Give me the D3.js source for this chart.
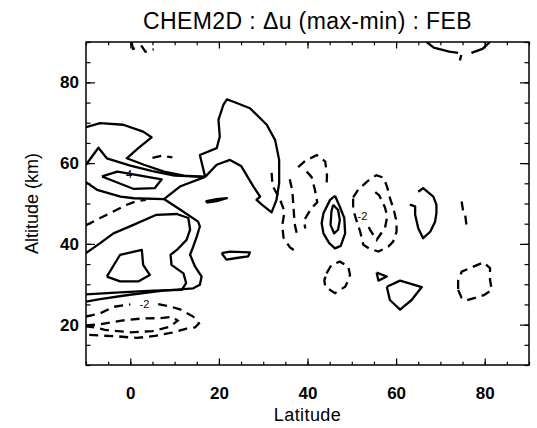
<!DOCTYPE html>
<html>
<head>
<meta charset="utf-8">
<script src="https://cdn.jsdelivr.net/npm/d3@7"></script>
<style>
  body { margin: 0; background: #fff; }
  svg text { font-family: "Liberation Sans", Arial, Helvetica, sans-serif; fill: #000; }
</style>
</head>
<body>
<svg id="chart" width="537" height="428"></svg>
<script>
// tick labels
var latTicks = [0, 20, 40, 60, 80]
var altTicks = [20, 40, 60, 80]
var latMinor = d3.range(-10, 91, 5)
var altMinor = d3.range(10, 91, 5)

// contour lines, [latitude, altitude km]
// solid = positive levels
var upperOuter = [[-10,68.9],[-6.8,69.9],[-1.6,69.5],[2.9,67.8],[4.8,66.4],[1.8,63.7],[-0.8,61.2],[3.1,59.6],[7.6,57.9],[12.1,56.9],[16.9,56.6]]
var upperZigzag = [[-10,59.6],[-7.2,63.8],[-5.3,61.2],[0,59.4],[5,58],[10,56.9],[16.9,56.6]]
var fourLoop = [[-6.4,56.7],[-2.9,57.9],[7.1,56],[5.5,53.8],[0.8,53.6],[-6.4,56.7]]
var midLine = [[-10,55.3],[-7.5,53.4],[-2.2,51.7],[0.8,51.3],[7.6,51.1],[11.2,54.2],[16.9,56.6]]
var tallLobe = [[16.9,56.6],[15.7,62],[19.5,63.7],[20.2,66.6],[19.9,70.7],[21,74.4],[21.8,75.8],[23.3,75.2],[27,73.6],[30.8,69.5],[32.7,65.7],[33.6,60.8],[33.6,55],[33,50.9],[31.9,47.8],[29.7,49.7],[28.5,50.9],[29.3,51.7],[27.8,54.2],[25,59.3],[22.5,60.8],[19.5,59.6],[16.9,56.6]]
var smallBar = [[17.2,50.2],[19.5,50.6],[21.8,51.3],[19.5,51.1],[17.2,50.6],[17.2,50.2]]
var outerLow = [[7.6,51.1],[11.4,48.4],[15.3,45.5],[15.7,44.3],[15,41.8],[14.2,39.3],[13.5,37.3],[14.6,34.4],[16.1,31.9],[15.7,29.9],[14.2,29],[7.4,28.4],[-0.1,27.4],[-6.8,26.3],[-10,25.7]]
var middleLow = [[-10,37.7],[-6.8,40.2],[-3.8,42.6],[0.7,44.7],[5.9,47.2],[10.5,47.4],[13.1,46.4],[13.5,43.5],[12.7,41],[10.5,38.5],[9.1,37.3],[9.3,34.8],[12,32.7],[12.6,30.3],[11.6,28.6],[5.2,28.4],[-2.3,28],[-10,27.5]]
var innerLow = [[-5.3,31.9],[-2.3,37.3],[2.6,38.5],[2.9,34.8],[4.4,32.3],[1.8,30.7],[-2.3,30.7],[-5.3,31.9]]
var blob25 = [[20.6,37.7],[22.5,38.1],[27,37.9],[26.6,36.9],[24,36.5],[21.7,36.1],[20.6,37.7]]
var ellipseOut = [[46.2,51.9],[45.1,50.9],[43.6,47.6],[43.2,45.1],[43.6,42.6],[44.9,40.2],[46.2,38.9],[47.5,39.5],[48.5,42.6],[48.3,46.4],[47.3,49.2],[46.2,51.9]]
var ellipseIn = [[45.8,49.7],[46.9,48.4],[47.3,45.9],[46.9,43.5],[46,42.6],[45.2,44.7],[45.4,48],[45.8,49.7]]
var vShape = [[63.1,49.7],[64.3,49.3],[64.3,47.2],[65,43.9],[66.1,41.4],[67.7,43],[68.8,45.5],[69.1,47.6],[69.1,49.7],[68.4,51.7],[66.1,53.8],[65,52.9]]
var triangle57 = [[55.6,32.9],[57.9,31.9],[56,30.9],[55.6,32.9]]
var quad62 = [[57.9,29.4],[60.9,30.9],[65.8,29.3],[63.5,26.1],[60.9,23.7],[58.6,26.1],[57.9,29.4]]
var topArcA = [[66.9,90],[68.5,88.6],[72,87.6],[74,87.3]]
var topArcB = [[77,87.3],[79.5,88.3],[81.2,90]]
var topTick = [[74.7,86.8],[74.4,85.4]]

// dashed = negative levels
var topSquiggle = [[0.3,90],[0.6,88.3],[2.6,88.9],[3.4,87.6],[5.3,88.2]]
var dash61 = [[5,61.3],[7,61.8],[9.5,61.4]]
var dash48 = [[-10,44.6],[-6.8,46.4],[-4.2,47.8],[-1,49.6],[1.2,50.5],[3.5,50.9]]
var g35a = [[31.9,57.6],[32.1,54.4],[33.8,51],[34.8,48],[34.3,44.5],[34.6,41.5],[36,39.2],[37.5,38]]
var g35b = [[36,56],[36.6,53],[36.8,49.5],[37.1,45],[37.6,42.5]]
var g40dome = [[37.9,59],[39.4,60.5],[42.1,62],[44,60.4],[44.4,57],[44.3,54.5]]
var g40in = [[39.8,57.9],[40.9,56.6],[41.3,55],[41.7,53.3],[42.2,50.3],[41,49],[39.2,45.8],[39.5,43.8]]
var ring55out = [[50.3,51.5],[51.5,53.5],[53.5,55.5],[55.5,57],[57.2,56.4],[58,54],[58.7,51],[59.4,48.8],[60.1,45.5],[60.1,43],[59.3,40.5],[58.2,39.3],[56,38.1],[54,38.8],[52.6,39.8],[51.9,43],[51,46],[50.3,48.5],[50.3,51.5]]
var ring55in = [[55.3,52.8],[56.2,52],[57.5,49],[58,46.8],[57.5,44],[55.6,41],[54.1,43.5],[53.5,45]]
var dash75 = [[74.8,50.5],[75.2,47.6],[75.6,47.2],[75.9,44.5]]
var ring47 = [[44.3,32.7],[45.4,34.8],[47.3,35.6],[49.2,34.4],[49.6,32.3],[49,30.5],[48.5,29.4],[46.2,27.8],[44,29.4],[43.8,31],[44.3,32.7]]
var ring78 = [[74,28.6],[74.8,26.6],[75.9,26],[77.8,26.6],[79.8,27.3],[81.6,28.6],[81.2,31.1],[81.2,34],[79.7,35.4],[76.7,34],[74.8,33.1],[74,30.8],[74,28.6]]
var lowOutA = [[-10,22],[-6.8,22.8],[-3.8,24.4],[0,25]]
var lowOutB = [[6.3,25.1],[9,24.5],[11.2,23.8],[14.2,22],[15.5,20.3],[14.6,19.3],[12.7,19],[9.4,18],[5.5,17.2],[1.5,16.7],[-3,17.1],[-7,17.3],[-10,17.5]]
var lowIn = [[-10,19.8],[-6.8,20.1],[-2,21],[2.5,21.5],[6.5,21.6],[9.5,21.9],[10.7,21],[9,19.5],[5,18.4],[-0.1,18.1],[-5.7,18.7],[-8,19.3],[-10,19.6]]

var solidLines = [upperOuter, upperZigzag, fourLoop, midLine, tallLobe, smallBar, outerLow, middleLow, innerLow, blob25, ellipseOut, ellipseIn, vShape, triangle57, quad62, topArcA, topArcB, topTick]
var dashedLines = [topSquiggle, dash61, dash48, g35a, g35b, g40dome, g40in, ring55out, ring55in, dash75, ring47, ring78, lowOutA, lowOutB, lowIn]

// contour labels [text, lat, alt]
var contourLabels = [["4", -0.3, 56.2], ["-2", 3.2, 24.2], ["-2", 52.4, 45.8]]

var padL = 86, padR = 529, padT = 42, padB = 365

var x = d3.scaleLinear().domain([-10, 90]).range([padL, padR])
var y = d3.scaleLinear().domain([10, 90]).range([padB, padT])

var svg = d3.select("#chart")

svg.append("defs").append("clipPath").attr("id", "plotclip")
  .append("rect").attr("x", padL).attr("y", padT).attr("width", padR - padL).attr("height", padB - padT)

var line = d3.line().x(function(d){ return x(d[0]) }).y(function(d){ return y(d[1]) })

var plot = svg.append("g").attr("clip-path", "url(#plotclip)")

plot.selectAll("path.solid").data(solidLines).enter().append("path")
  .attr("class", "solid").attr("d", line)
  .attr("fill", "none").attr("stroke", "#000").attr("stroke-width", 2.3)
  .attr("stroke-linejoin", "round")

plot.selectAll("path.dashed").data(dashedLines).enter().append("path")
  .attr("class", "dashed").attr("d", line)
  .attr("fill", "none").attr("stroke", "#000").attr("stroke-width", 2.3)
  .attr("stroke-dasharray", "9,6")

plot.selectAll("text.lab").data(contourLabels).enter().append("text")
  .attr("class", "lab")
  .attr("x", function(d){ return x(d[1]) }).attr("y", function(d){ return y(d[2]) })
  .attr("text-anchor", "middle").attr("font-size", "11px")
  .text(function(d){ return d[0] })

// axes, ticks inward on all four sides
function styleAxis(sel) {
  sel.select(".domain").remove()
  sel.selectAll(".tick line").attr("stroke", "#000").attr("stroke-width", 1.2)
  sel.selectAll("text").attr("font-size", "17px").attr("font-weight", "bold").attr("fill", "#000")
    .style("font-family", '"Liberation Sans", Arial, sans-serif')
}

svg.append("g").attr("transform", "translate(0," + padB + ")")
  .call(d3.axisBottom(x).tickValues(latMinor).tickSize(-3.3).tickFormat(""))
  .call(styleAxis)
svg.append("g").attr("transform", "translate(0," + padB + ")")
  .call(d3.axisBottom(x).tickValues(latTicks).tickSize(-6.5).tickPadding(22).tickFormat(d3.format("d")))
  .call(styleAxis)
svg.append("g").attr("transform", "translate(0," + padT + ")")
  .call(d3.axisTop(x).tickValues(latMinor).tickSize(-3.3).tickFormat(""))
  .call(styleAxis)
svg.append("g").attr("transform", "translate(0," + padT + ")")
  .call(d3.axisTop(x).tickValues(latTicks).tickSize(-6.5).tickFormat(""))
  .call(styleAxis)

svg.append("g").attr("transform", "translate(" + padL + ",0)")
  .call(d3.axisLeft(y).tickValues(altMinor).tickSize(-4.5).tickFormat(""))
  .call(styleAxis)
svg.append("g").attr("transform", "translate(" + padL + ",0)")
  .call(d3.axisLeft(y).tickValues(altTicks).tickSize(-9).tickPadding(7).tickFormat(d3.format("d")))
  .call(styleAxis)
svg.append("g").attr("transform", "translate(" + padR + ",0)")
  .call(d3.axisRight(y).tickValues(altMinor).tickSize(-4.5).tickFormat(""))
  .call(styleAxis)
svg.append("g").attr("transform", "translate(" + padR + ",0)")
  .call(d3.axisRight(y).tickValues(altTicks).tickSize(-9).tickFormat(""))
  .call(styleAxis)

svg.append("rect").attr("x", padL).attr("y", padT)
  .attr("width", padR - padL).attr("height", padB - padT)
  .attr("fill", "none").attr("stroke", "#000").attr("stroke-width", 1.5)

svg.append("text").attr("x", (padL + padR) / 2).attr("y", 29)
  .attr("text-anchor", "middle").attr("font-size", "23px")
  .attr("letter-spacing", "0.4px")
  .text("CHEM2D : \u0394u (max-min) : FEB")

svg.append("text").attr("x", (padL + padR) / 2).attr("y", 421)
  .attr("text-anchor", "middle").attr("font-size", "18px")
  .attr("letter-spacing", "0.4px")
  .text("Latitude")

svg.append("text").attr("transform", "translate(38," + ((padT + padB) / 2) + ") rotate(-90)")
  .attr("text-anchor", "middle").attr("font-size", "18px")
  .text("Altitude (km)")
</script>
</body>
</html>
